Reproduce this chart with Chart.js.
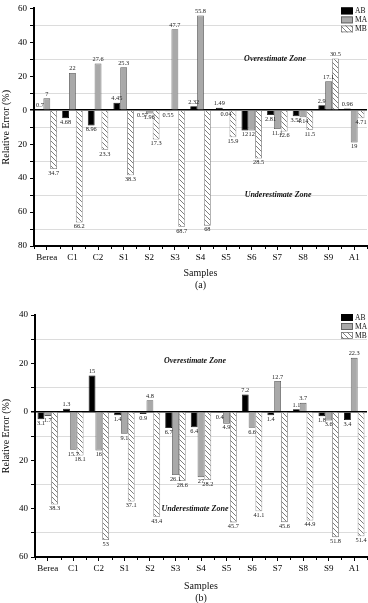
<!DOCTYPE html>
<html><head><meta charset="utf-8">
<script src="https://cdn.jsdelivr.net/npm/chart.js@4.4.1/dist/chart.umd.min.js"></script>
<style>
html,body{margin:0;padding:0;background:#fff;}
#wrap{position:relative;width:368px;height:603px;overflow:hidden;}
.c{position:absolute;left:0;width:368px;}
</style></head><body>
<div id="wrap">
<div class="c" style="top:0;height:300px"><canvas id="ca"></canvas></div>
<div class="c" style="top:300px;height:303px"><canvas id="cb"></canvas></div>
</div>
<script>
// ---- data ----
const categories = ['Berea','C1','C2','S1','S2','S3','S4','S5','S6','S7','S8','S9','A1'];
const seriesNames = ['AB','MA','MB'];
// chart (a)
const abA = [0.7, -4.68, -8.96, 4.45, -0.57, -0.55, 2.32, 1.49, -12, -2.81, -3.53, 2.9, 0.96];
const maA = [7, 22, 27.6, 25.3, -1.96, 47.7, 55.8, -0.04, -12, -11.1, -4.14, 17.1, -19];
const mbA = [-34.7, -66.2, -23.3, -38.3, -17.3, -68.7, -68, -15.9, -28.5, -12.6, -11.5, 30.5, -4.71];
// chart (b)
const abB = [-3.1, 1.3, 15, -1.4, -0.9, -6.7, -6.4, -0.4, 7.2, -1.4, 1.1, -1.8, -3.4];
const maB = [-1.7, -15.7, -16, -9.1, 4.8, -26.1, -27, -4.9, -6.6, 12.7, 3.7, -3.6, 22.3];
const mbB = [-38.3, -18.1, -53, -37.1, -43.4, -28.6, -28.2, -45.7, -41.1, -45.6, -44.9, -51.8, -51.4];
// axis ranges / tick labels
const yRangeA = [-80, 60];
const yRangeB = [-60, 40];
const yTickLabelsA = ['80','60','40','20','0','20','40','60'];
const yTickLabelsB = ['60','40','20','0','20','40'];

// ---- hatch pattern ----
function makeHatch(){
  const s = 5, c = document.createElement('canvas');
  c.width = s; c.height = s;
  const g = c.getContext('2d');
  g.fillStyle = '#fff'; g.fillRect(0,0,s,s);
  g.strokeStyle = '#6e6e6e'; g.lineWidth = 0.9;
  g.beginPath();
  g.moveTo(0,0); g.lineTo(s,s);
  g.moveTo(-1,s-1); g.lineTo(1,s+1);
  g.moveTo(s-1,-1); g.lineTo(s+1,1);
  g.stroke();
  return document.createElement('canvas').getContext('2d').createPattern(c,'repeat');
}
const hatch = makeHatch();

const SERIF = '"Liberation Serif", "DejaVu Serif", serif';

const valueLabels = {
  id:'valueLabels',
  afterDatasetsDraw(chart){
    const ctx = chart.ctx; ctx.save();
    ctx.font = '6.3px ' + SERIF; ctx.fillStyle = '#222'; ctx.textAlign = 'center';
    chart.data.datasets.forEach((ds,i)=>{
      const meta = chart.getDatasetMeta(i);
      meta.data.forEach((el,j)=>{
        const v = ds.data[j];
        const t = String(Math.abs(v));
        if (v >= 0){ ctx.textBaseline='bottom'; ctx.fillText(t, el.x, el.y-1); }
        else { ctx.textBaseline='top'; ctx.fillText(t, el.x, el.y+1); }
      });
    });
    ctx.restore();
  }
};

const extras = {
  id:'extras',
  afterDatasetsDraw(chart, args, o){
    const ctx = chart.ctx, ca = chart.chartArea;
    const ys = chart.scales.y;
    ctx.save();
    // boundary ticks on x axis
    ctx.strokeStyle = '#000'; ctx.lineWidth = 1;
    const n = chart.data.labels.length;
    for (let i=0;i<=n;i++){
      const x = Math.round(ca.left + (ca.right-ca.left)*i/n)+0.5;
      ctx.beginPath(); ctx.moveTo(x, ca.bottom); ctx.lineTo(x, ca.bottom+3); ctx.stroke();
    }
    // zone texts
    ctx.fillStyle = '#111'; ctx.textAlign = 'center'; ctx.textBaseline = 'middle';
    ctx.font = 'italic bold 8px ' + SERIF;
    ctx.fillText('Overestimate Zone', ca.left + (ca.right-ca.left)*o.over[0], ys.getPixelForValue(o.over[1]));
    ctx.fillText('Underestimate Zone', ca.left + (ca.right-ca.left)*o.under[0], ys.getPixelForValue(o.under[1]));
    // x title
    ctx.font = '10px ' + SERIF;
    ctx.fillText('Samples', (ca.left+ca.right)/2, ca.bottom + o.titleDy);
    ctx.fillText(o.sub, (ca.left+ca.right)/2, ca.bottom + o.titleDy + 12);
    // legend
    ctx.font = '7.5px ' + SERIF; ctx.textAlign = 'left';
    chart.data.datasets.forEach((ds,i)=>{
      const bx = ca.right - 26, by = ca.top - 1 + i*9;
      ctx.fillStyle = ds.backgroundColor; ctx.fillRect(bx, by, 12, 7);
      ctx.strokeStyle = ds.borderColor; ctx.lineWidth = 0.8; ctx.strokeRect(bx+0.5, by+0.5, 11, 6);
      ctx.fillStyle = '#111'; ctx.fillText(ds.label, bx + 14, by + 4);
    });
    ctx.restore();
  }
};

function build(id, ab, ma, mb, range, tickLabels, cfg){
  const datasets = [
    {label:seriesNames[0], data:ab, backgroundColor:'#000', borderColor:'#000', borderWidth:0.8},
    {label:seriesNames[1], data:ma, backgroundColor:'#a9a9a9', borderColor:'#555', borderWidth:0.8},
    {label:seriesNames[2], data:mb, backgroundColor:hatch, borderColor:'#777', borderWidth:0.8}
  ];
  return new Chart(document.getElementById(id), {
    type:'bar',
    data:{labels:categories, datasets},
    options:{
      responsive:true, maintainAspectRatio:false, animation:false,
      devicePixelRatio:1,
      categoryPercentage:0.8, barPercentage:1.0,
      layout:{padding:{left:0, right:1, top:cfg.top, bottom:0}},
      plugins:{legend:{display:false}, tooltip:{enabled:false},
        extras:{over:cfg.over, under:cfg.under, sub:cfg.sub, titleDy:cfg.titleDy}},
      scales:{
        x:{
          offset:true,
          grid:{offset:false, color:'transparent', tickColor:'#000', tickLength:4, drawTicks:true},
          border:{display:true, color:'#000', width:2},
          ticks:{font:{family:SERIF, size:9}, color:'#000', padding:2, maxRotation:0, autoSkip:false},
          afterFit(s){ s.height = cfg.xh; }
        },
        y:{
          min:range[0], max:range[1],
          ticks:{stepSize:10, font:{family:SERIF, size:9}, color:'#000', padding:3,
            callback:(v)=>{ if (v%20!==0) return ''; const idx=(v-range[0])/20; return tickLabels[idx]; }},
          grid:{
            color:(c)=>{ const v=c.tick.value; if (v===0) return '#000'; if (v%20!==0) return '#dcdcdc'; return 'transparent'; },
            lineWidth:(c)=> c.tick.value===0 ? 1.5 : 1,
            tickColor:'#000', tickLength:4, drawTicks:true
          },
          border:{display:true, color:'#000', width:2},
          title:{display:true, text:'Relative Error (%)', font:{family:SERIF, size:10}, color:'#000', padding:0},
          afterFit(s){ s.width = cfg.yw; }
        }
      }
    },
    plugins:[valueLabels, extras]
  });
}

build('ca', abA, maA, mbA, yRangeA, yTickLabelsA,
  {top:4, xh:54, yw:34, over:[0.724, 30], under:[0.733, -50], sub:'(a)', titleDy:27});
build('cb', abB, maB, mbB, yRangeB, yTickLabelsB,
  {top:15, xh:46, yw:35, over:[0.482, 21], under:[0.482, -40], sub:'(b)', titleDy:29});
</script>
</body></html>
